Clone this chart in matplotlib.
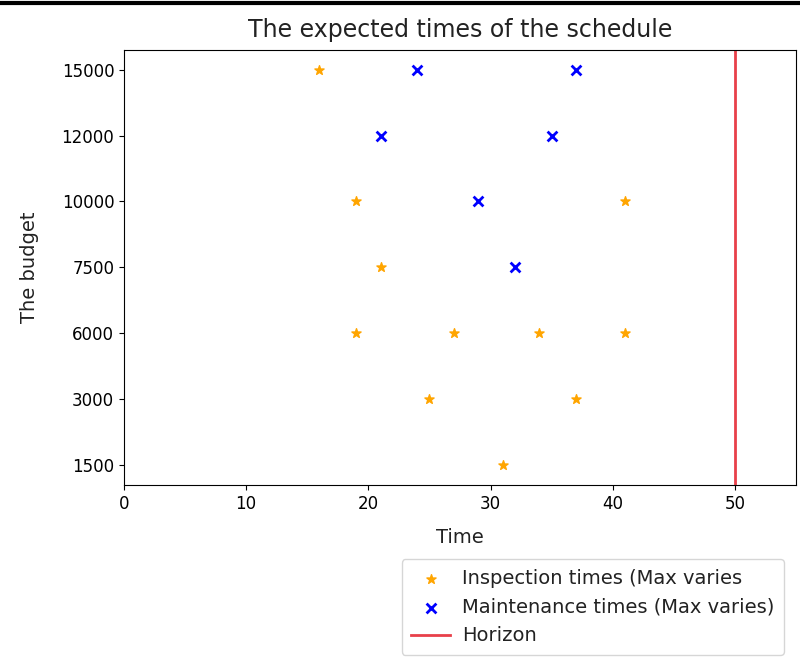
import matplotlib.pyplot as plt
from matplotlib.lines import Line2D

budgets = ["1500", "3000", "6000", "7500", "10000", "12000", "15000"]

# inspection times (stars) per budget
insp_budget = ["15000", "10000", "10000", "7500", "6000", "6000", "6000", "6000",
               "3000", "3000", "1500"]
insp_time = [16, 19, 41, 21, 19, 27, 34, 41, 25, 37, 31]

# maintenance times (crosses) per budget
maint_budget = ["15000", "15000", "12000", "12000", "10000", "7500"]
maint_time = [24, 37, 21, 35, 29, 32]

horizon = 50

plt.rcParams["font.size"] = 12
plt.rcParams["text.color"] = "#222222"
plt.rcParams["axes.labelcolor"] = "#222222"

fig = plt.figure(figsize=(8, 6.57), dpi=100)
ax = fig.add_axes([0.155, 0.262, 0.84, 0.662])

insp_y = [budgets.index(b) for b in insp_budget]
maint_y = [budgets.index(b) for b in maint_budget]

ax.scatter(insp_time, insp_y, marker="*", color="orange", s=48,
           label="Inspection times (Max varies")
ax.scatter(maint_time, maint_y, marker="x", color="blue", s=50, linewidths=2,
           label="Maintenance times (Max varies)")
ax.axvline(horizon, color="#e8404a", linewidth=2, label="Horizon")

ax.set_yticks(range(len(budgets)))
ax.set_yticklabels(budgets)
ax.set_ylim(-0.3, len(budgets) - 0.7)
ax.set_xlim(0, 55)
ax.set_xticks([0, 10, 20, 30, 40, 50])

ax.set_title("The expected times of the schedule", fontsize=17, pad=9)
ax.set_xlabel("Time", fontsize=14, labelpad=11)
ax.set_ylabel("The budget", fontsize=14, labelpad=16)

fig.legend(loc="lower right", bbox_to_anchor=(0.992, -0.012), fontsize=14,
           handletextpad=0.6, borderpad=0.5)

# frame line at top of the screenshot
fig.add_artist(Line2D([0, 1], [0.995, 0.995], color="black", linewidth=3,
                      transform=fig.transFigure))

fig.savefig("out.png", dpi=100)
